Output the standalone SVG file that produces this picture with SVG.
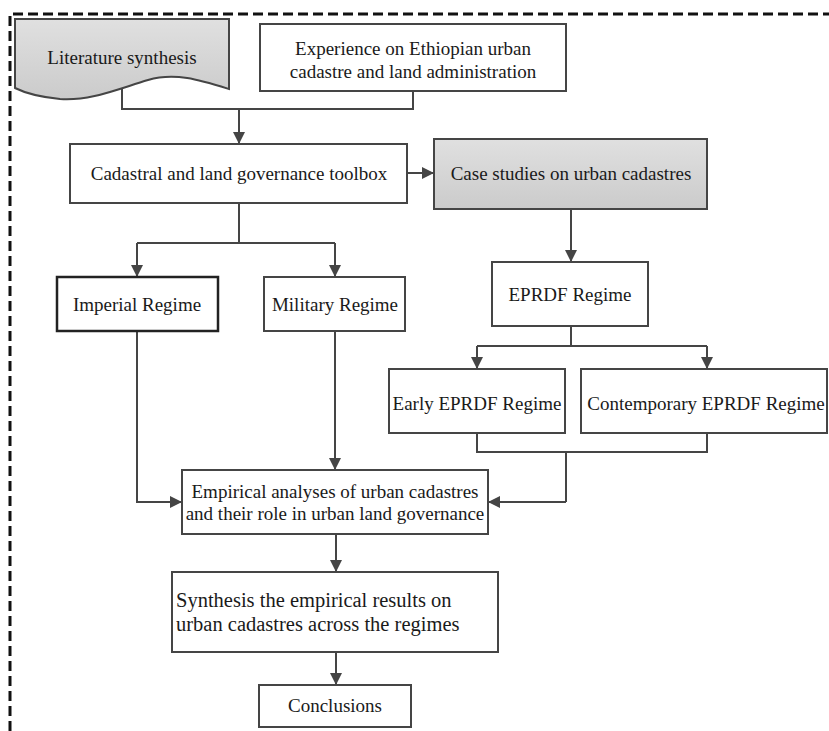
<svg xmlns="http://www.w3.org/2000/svg" width="829" height="731" viewBox="0 0 829 731">
<defs>
<style>
.box{fill:#fff;stroke:#454545;stroke-width:2}
.gray{fill:url(#g);stroke:#454545;stroke-width:2}
.t{font-family:"Liberation Serif","Times New Roman",serif;font-size:19px;fill:#1a1a1a}
.c{text-anchor:middle}
.ln{fill:none;stroke:#454545;stroke-width:2}
.ar{fill:none;stroke:#454545;stroke-width:2;marker-end:url(#a)}
</style>
<linearGradient id="g" x1="0" y1="0" x2="0" y2="1">
<stop offset="0" stop-color="#e0e0e0"/>
<stop offset="1" stop-color="#cbcbcb"/>
</linearGradient>
<marker id="a" viewBox="0 0 12 12" refX="12" refY="6" markerWidth="12" markerHeight="12" markerUnits="userSpaceOnUse" orient="auto">
<path d="M0,0 L12,6 L0,12 Z" fill="#454545"/>
</marker>
</defs>
<rect width="829" height="731" fill="#fff"/>
<path d="M10,731 V14 H829" fill="none" stroke="#111" stroke-width="3" stroke-dasharray="10 5"/>
<g id="connectors">
<path class="ln" d="M122,85 V109 H413 V91"/>
<path class="ar" d="M239,109 V144"/>
<path class="ln" d="M239,203 V243 M137,243 H335"/>
<path class="ar" d="M137,243 V277"/>
<path class="ar" d="M335,243 V277"/>
<path class="ar" d="M407,173 H434"/>
<path class="ar" d="M571,209 V262"/>
<path class="ln" d="M571,326 V346 M477,346 H707"/>
<path class="ar" d="M477,346 V369"/>
<path class="ar" d="M707,346 V369"/>
<path class="ln" d="M477,433 V452 H707 V433 M566,452 V502"/>
<path class="ar" d="M566,502 H488"/>
<path class="ar" d="M137,331 V502 H182"/>
<path class="ar" d="M335,331 V470"/>
<path class="ar" d="M336,534 V572"/>
<path class="ar" d="M336,652 V685"/>
</g>
<g id="literature">
<path class="gray" d="M15,19 H229 V89 C200,80 175,72 148,80 C115,90 90,101 60,99 C40,97 25,93 15,88 Z"/>
<text class="t c" x="122" y="64">Literature synthesis</text>
</g>
<g id="experience">
<rect class="box" x="260" y="24" width="306" height="67"/>
<text class="t c" x="413" y="55">Experience on Ethiopian urban</text>
<text class="t c" x="413" y="78">cadastre and land administration</text>
</g>
<g id="toolbox">
<rect class="box" x="70" y="144" width="337" height="59"/>
<text class="t c" x="239" y="180">Cadastral and land governance toolbox</text>
</g>
<g id="casestudies">
<rect class="gray" x="434" y="139" width="273" height="70"/>
<text class="t c" x="571" y="180">Case studies on urban cadastres</text>
</g>
<g id="imperial">
<rect class="box" x="57" y="277" width="161" height="54" style="stroke:#222;stroke-width:2.5"/>
<text class="t c" x="137" y="311">Imperial Regime</text>
</g>
<g id="military">
<rect class="box" x="264" y="277" width="141" height="54"/>
<text class="t c" x="335" y="311">Military Regime</text>
</g>
<g id="eprdf">
<rect class="box" x="492" y="262" width="156" height="64"/>
<text class="t c" x="570" y="301">EPRDF Regime</text>
</g>
<g id="early">
<rect class="box" x="389" y="369" width="176" height="64"/>
<text class="t c" x="477" y="410">Early EPRDF Regime</text>
</g>
<g id="contemporary">
<rect class="box" x="581" y="369" width="246" height="64"/>
<text class="t c" x="706" y="410">Contemporary EPRDF Regime</text>
</g>
<g id="empirical">
<rect class="box" x="182" y="470" width="306" height="64"/>
<text class="t c" x="335" y="498">Empirical analyses of urban cadastres</text>
<text class="t c" x="335" y="520">and their role in urban land governance</text>
</g>
<g id="synthesis">
<rect class="box" x="172" y="572" width="326" height="80"/>
<text class="t" x="176" y="607" style="font-size:20.5px">Synthesis the empirical results on</text>
<text class="t" x="176" y="631" style="font-size:20.5px">urban cadastres across the regimes</text>
</g>
<g id="conclusions">
<rect class="box" x="259" y="685" width="152" height="42"/>
<text class="t c" x="335" y="712">Conclusions</text>
</g>
</svg>
